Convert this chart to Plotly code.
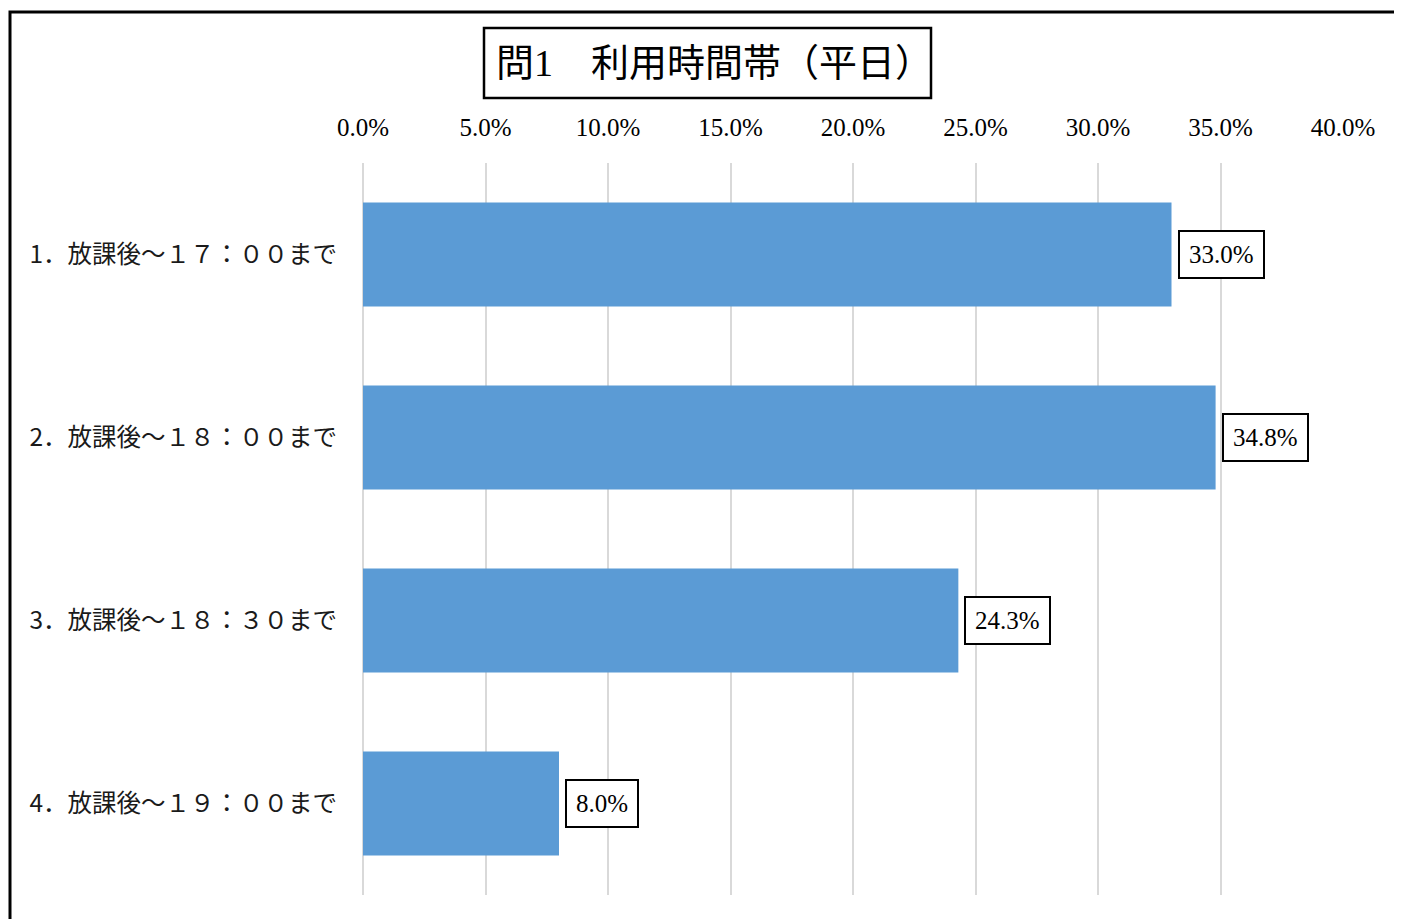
import plotly.graph_objects as go

categories = ["1．放課後～１７：００まで", "2．放課後～１８：００まで",
              "3．放課後～１８：３０まで", "4．放課後～１９：００まで"]
values = [0.330, 0.348, 0.243, 0.080]
tick_vals = [0, 0.05, 0.10, 0.15, 0.20, 0.25, 0.30, 0.35, 0.40]
title_text = "問1　利用時間帯（平日）"

OFF = 8  # page body margin
W, H = 1402 - OFF, 919 - OFF
L, R, T, B = 363, 1343, 163, 895  # target page coords of plot area

def px(x):
    return (x - L) / (R - L)

def py(y):
    return (B - y) / (B - T)

SERIF = "Liberation Serif, Noto Sans CJK JP"
CJK = "Noto Sans CJK JP"

fig = go.Figure(go.Bar(
    x=values, y=categories, orientation="h",
    marker=dict(color="#5B9BD5", line=dict(width=0)),
    width=0.568, hoverinfo="skip",
))

for c, v in zip(categories, values):
    fig.add_annotation(
        x=v, y=c, xref="x", yref="y", text=f"{v*100:.1f}%",
        showarrow=False, xanchor="left", yanchor="middle", xshift=6,
        font=dict(family=SERIF, size=25, color="#000"),
        bordercolor="#000", borderwidth=2, borderpad=9, bgcolor="#fff",
    )

# title
fig.add_shape(type="rect", xref="paper", yref="paper",
              x0=px(484), x1=px(931), y0=py(98), y1=py(28),
              line=dict(color="#000", width=2.5), fillcolor="#fff", layer="above")
fig.add_annotation(x=px(714), y=py(63), xref="paper", yref="paper",
                   text=title_text, showarrow=False, xanchor="center", yanchor="middle",
                   font=dict(family=SERIF, size=38, color="#000"))
# outer border
fig.add_shape(type="rect", xref="paper", yref="paper",
              x0=px(10), x1=px(1460), y0=py(980), y1=py(12),
              line=dict(color="#000", width=3), fillcolor="rgba(0,0,0,0)", layer="below")

fig.update_layout(
    width=W, height=H,
    margin=dict(l=L - OFF, r=1402 - R, t=T - OFF, b=919 - B, pad=0),
    paper_bgcolor="#fff", plot_bgcolor="#fff",
    showlegend=False,
    xaxis=dict(range=[0, 0.40], side="top", tickvals=tick_vals, tickformat=".1%",
               showgrid=True, gridcolor="#d9d9d9", gridwidth=2,
               zeroline=True, zerolinecolor="#d9d9d9", zerolinewidth=2,
               showline=False, ticks="",
               ticklabelstandoff=21,
               tickfont=dict(family=SERIF, size=25, color="#000")),
    yaxis=dict(autorange="reversed", showgrid=False, zeroline=False, showline=False,
               ticks="", ticklabelstandoff=25,
               tickfont=dict(family=CJK, size=24.5, color="#1a1a1a")),
)

fig.write_html("out.html")
